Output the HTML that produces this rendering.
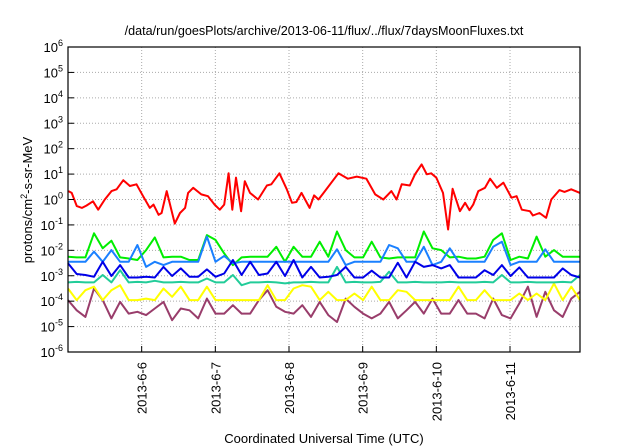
<!DOCTYPE html>
<html><head><meta charset="utf-8"><style>
body{margin:0;background:#fff}
svg{display:block;font-family:"Liberation Sans",sans-serif}
</style></head><body>
<svg id="chart" width="640" height="448" viewBox="0 0 640 448" xmlns="http://www.w3.org/2000/svg">
<text x="324" y="35" font-size="12.6" text-anchor="middle" fill="#000">/data/run/goesPlots/archive/2013-06-11/flux/../flux/7daysMoonFluxes.txt</text>
<text transform="translate(32,200) rotate(-90)" font-size="13" text-anchor="middle">protons/cm<tspan dy="-5" font-size="9">2</tspan><tspan dy="5">-s-sr-MeV</tspan></text>
<text x="324" y="443" font-size="13" text-anchor="middle">Coordinated Universal Time (UTC)</text>
<g id="grid"></g><g id="series"></g><g id="axes"></g>
</svg>
<script>
const dayLabels=["2013-6-6","2013-6-7","2013-6-8","2013-6-9","2013-6-10","2013-6-11"];
const dayTicks=[1,2,3,4,5,6];
const expTicks=[-6,-5,-4,-3,-2,-1,0,1,2,3,4,5,6];
const redDays=[0.005,0.05,0.12,0.19,0.25,0.34,0.41,0.50,0.59,0.66,0.75,0.84,0.93,1.02,1.11,1.16,1.23,1.27,1.34,1.45,1.52,1.59,1.63,1.70,1.81,1.90,1.99,2.06,2.12,2.18,2.23,2.28,2.35,2.40,2.47,2.58,2.70,2.76,2.87,2.97,3.04,3.10,3.17,3.28,3.34,3.40,3.47,3.67,3.80,3.92,4.05,4.17,4.28,4.39,4.46,4.53,4.64,4.71,4.80,4.87,4.93,5.00,5.09,5.16,5.22,5.32,5.39,5.45,5.50,5.57,5.66,5.73,5.82,5.91,6.02,6.09,6.16,6.27,6.31,6.40,6.49,6.56,6.67,6.74,6.83,6.95];
const redExp=[0.33,0.26,-0.26,-0.33,-0.24,-0.07,-0.4,0,0.33,0.4,0.76,0.53,0.6,0.13,-0.33,-0.2,-0.6,-0.53,0.33,-0.95,-0.53,-0.33,0.26,0.46,0.2,0.13,-0.2,-0.4,-0.2,1.03,-0.4,0.86,-0.46,0.72,0.26,0,0.55,0.6,1.03,0.4,-0.13,-0.1,0.26,-0.33,0.16,0,0.26,1.03,0.82,0.9,0.82,0.2,0,0.33,0,0.6,0.55,0.99,1.38,0.99,1.03,0.86,0.26,-1.18,0.42,-0.46,-0.13,-0.42,-0.2,0.33,0.46,0.82,0.46,0.66,0.07,0.13,-0.4,-0.46,-0.63,-0.53,-0.72,0,0.37,0.3,0.4,0.26];
const gridStep=0.1178;
const greenExp=[-2.25,-2.28,-2.28,-1.33,-1.92,-1.62,-2.28,-2.32,-2.38,-1.99,-1.49,-2.28,-2.25,-2.25,-2.38,-2.38,-1.40,-1.59,-2.12,-2.58,-2.28,-2.25,-2.25,-2.25,-1.86,-2.45,-1.86,-2.25,-2.25,-1.66,-2.25,-1.26,-1.99,-2.28,-2.28,-1.66,-2.28,-2.32,-2.28,-2.28,-2.28,-1.26,-1.92,-1.99,-2.28,-2.25,-2.32,-2.32,-2.25,-1.59,-1.33,-2.38,-2.25,-2.32,-1.46,-2.25,-1.99,-2.25,-2.25,-2.25];
const lightBlueExp=[-2.45,-2.45,-2.45,-2.05,-2.45,-1.99,-2.45,-2.45,-1.79,-2.65,-2.45,-2.58,-2.45,-2.45,-2.45,-2.45,-1.46,-2.45,-2.22,-2.51,-2.45,-2.45,-2.45,-2.45,-2.45,-2.45,-2.45,-2.45,-2.45,-2.45,-2.45,-1.96,-2.58,-2.45,-2.45,-2.45,-2.45,-1.79,-1.92,-2.45,-2.45,-1.86,-2.58,-2.45,-1.92,-2.45,-2.45,-2.45,-2.45,-1.86,-1.66,-2.58,-2.45,-2.45,-2.45,-1.96,-2.45,-2.45,-2.45,-2.45];
const blueExp=[-2.51,-2.93,-2.97,-3.04,-2.45,-3.01,-2.58,-3.07,-3.07,-3.04,-3.07,-2.65,-3.01,-2.71,-3.04,-3.04,-2.75,-3.04,-2.91,-2.38,-2.97,-2.45,-2.97,-2.91,-2.45,-3.01,-2.38,-3.07,-2.65,-3.07,-3.04,-2.97,-2.65,-3.07,-3.07,-2.80,-3.07,-3.07,-2.49,-3.07,-2.45,-2.65,-2.58,-2.71,-2.58,-3.07,-3.07,-3.07,-2.78,-2.97,-2.58,-3.01,-2.67,-3.07,-3.07,-3.07,-3.07,-2.71,-2.97,-3.07];
const tealExp=[-3.26,-3.24,-3.26,-3.26,-2.97,-3.26,-2.78,-3.26,-3.24,-3.26,-3.2,-3.26,-3.26,-3.24,-3.26,-3.26,-3.11,-3.26,-3.26,-2.97,-3.37,-3.26,-3.26,-3.24,-3.26,-3.3,-3.26,-3.26,-3.24,-3.26,-3.26,-2.65,-3.26,-3.24,-3.26,-3.26,-3.24,-2.84,-3.26,-3.26,-3.24,-3.26,-3.26,-3.26,-3.24,-3.26,-3.26,-3.26,-3.24,-3.26,-2.97,-3.26,-3.26,-3.24,-3.26,-3.26,-3.26,-3.24,-3.26,-2.97];
const yellowExp=[-3.50,-3.96,-3.57,-3.43,-3.96,-3.57,-3.37,-3.96,-3.96,-3.90,-3.96,-3.50,-3.83,-3.43,-3.96,-3.96,-3.43,-3.96,-3.96,-3.96,-3.96,-3.96,-3.96,-3.37,-3.96,-3.96,-3.50,-3.37,-3.43,-3.96,-3.63,-3.96,-3.96,-3.70,-3.96,-3.43,-3.96,-3.96,-3.57,-3.63,-3.96,-3.96,-3.96,-3.96,-3.96,-3.43,-3.96,-3.96,-3.57,-3.96,-3.96,-3.96,-3.70,-3.96,-3.70,-3.96,-3.30,-3.96,-3.43,-3.96];
const purpleExp=[-3.96,-4.36,-4.62,-3.50,-3.96,-4.68,-4.03,-4.49,-4.42,-4.55,-4.29,-4.03,-4.75,-4.29,-4.36,-4.68,-3.90,-4.49,-4.49,-4.16,-4.49,-4.49,-3.96,-3.57,-4.22,-4.42,-4.49,-4.16,-4.62,-4.03,-4.55,-4.82,-3.90,-4.22,-4.49,-4.68,-4.49,-4.03,-4.68,-4.36,-4.03,-4.49,-3.90,-4.49,-4.49,-3.96,-4.49,-4.49,-4.68,-3.90,-4.55,-4.68,-4.09,-3.43,-4.62,-3.63,-4.36,-4.62,-3.90,-3.63];

const L=68,R=580,T=47,B=352,D0=0,D1=6.95,E0=-6,E1=6;
const xs=d=>L+(d-D0)/(D1-D0)*(R-L);
const ys=e=>B-(e-E0)/(E1-E0)*(B-T);
const NS="http://www.w3.org/2000/svg";
function mk(tag,parent){const el=document.createElementNS(NS,tag);parent.appendChild(el);return el;}
const grid=document.getElementById('grid'),ser=document.getElementById('series'),ax=document.getElementById('axes');
expTicks.forEach(e=>{
  const y=ys(e);
  if(e>E0&&e<E1){const g=mk('line',grid);
    
    
    g.setAttribute('x1',L);g.setAttribute('x2',R);g.setAttribute('y1',y);g.setAttribute('y2',y);g.setAttribute('stroke','#aaa');g.setAttribute('stroke-dasharray','1,2');}
  const tk=mk('line',ax);
  
  
  tk.setAttribute('x1',L);tk.setAttribute('x2',L+6);tk.setAttribute('y1',y);tk.setAttribute('y2',y);tk.setAttribute('stroke','#000');
  const t=mk('text',ax);
  
  
  t.setAttribute('x',L-5);t.setAttribute('y',y+5);t.setAttribute('font-size','13');t.setAttribute('text-anchor','end');
  t.innerHTML='10<tspan dy="-6" font-size="9">'+e+'</tspan>';
});
dayTicks.forEach((d,i)=>{
  const x=xs(d);
  const g=mk('line',grid);
  
  
  g.setAttribute('x1',x);g.setAttribute('x2',x);g.setAttribute('y1',T);g.setAttribute('y2',B);g.setAttribute('stroke','#aaa');g.setAttribute('stroke-dasharray','1,2');
  const tk=mk('line',ax);
  
  
  tk.setAttribute('x1',x);tk.setAttribute('x2',x);tk.setAttribute('y1',B);tk.setAttribute('y2',B-6);tk.setAttribute('stroke','#000');
  const t=mk('text',ax);
  
  
  t.setAttribute('transform','translate('+(x+5)+','+(B+10)+') rotate(-90)');t.setAttribute('font-size','13');t.setAttribute('text-anchor','end');
  t.textContent=dayLabels[i];
});
const frame=mk('rect',ax);


frame.setAttribute('x',L);frame.setAttribute('y',T);frame.setAttribute('width',R-L);frame.setAttribute('height',B-T);frame.setAttribute('fill','none');frame.setAttribute('stroke','#000');frame.setAttribute('stroke-width','1.2');
function draw(days,vals,color,name){
  const p=mk('polyline',ser);
  
  
  p.setAttribute('points',vals.map((v,i)=>xs(days[i]).toFixed(1)+','+ys(v).toFixed(1)).join(' '));
  p.setAttribute('fill','none');p.setAttribute('stroke',color);p.setAttribute('stroke-width','2');p.setAttribute('stroke-linejoin','round');
}
const gridDays=greenExp.map((_,i)=>i*gridStep);
draw(gridDays,purpleExp,'#993d6b','series-purple');
draw(gridDays,yellowExp,'#ffff00','series-yellow');
draw(gridDays,tealExp,'#22cc99','series-teal');
draw(gridDays,greenExp,'#00ee00','series-green');
draw(gridDays,lightBlueExp,'#1a80ff','series-light-blue');
draw(gridDays,blueExp,'#0000e8','series-blue');
draw(redDays,redExp,'#ff0000','series-red');
</script>
</body></html>
